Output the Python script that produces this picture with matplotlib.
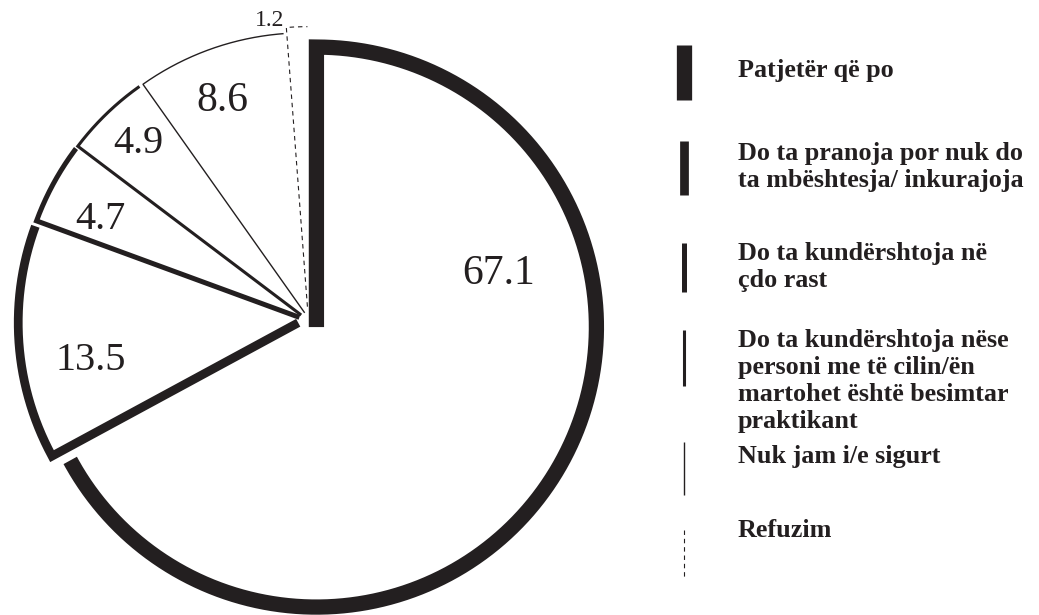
import numpy as np
import matplotlib
matplotlib.use("Agg")
import matplotlib.pyplot as plt

# data
categories = [
    "Patjetër që po",
    "Do ta pranoja por nuk do\nta mbështesja/ inkurajoja",
    "Do ta kundërshtoja në\nçdo rast",
    "Do ta kundërshtoja nëse\npersoni me të cilin/ën\nmartohet është besimtar\npraktikant",
    "Nuk jam i/e sigurt",
    "Refuzim",
]
values = [67.1, 13.5, 4.7, 4.9, 8.6, 1.2]
value_labels = ["67.1", "13.5", "4.7", "4.9", "8.6", "1.2"]

# styles
ink = "#231f20"
widths = [11.0, 6.3, 3.6, 2.2, 1.0, 0.8]
styles = ["solid", "solid", "solid", "solid", "solid", (0, (4, 3.5))]
explode = [0.035, 0.035, 0.035, 0.035, 0.035, 0.055]
# label positions in pie units (radius = 1)
label_xy = [(0.682, 0.171), (-0.775, -0.136), (-0.743, 0.368), (-0.607, 0.636),
            (-0.307, 0.789), (-0.136, 1.077)]
label_size = [30, 29, 29, 29, 30, 17]

W, H = 1039, 615
fig = plt.figure(figsize=(W / 100, H / 100), dpi=100)
fig.patch.set_facecolor("white")

# pie centre at (308, 322) px, radius 280 px
ax = fig.add_axes([0, 0, 616 / W, 1])
wedges, _ = ax.pie(values, startangle=90, counterclock=False, explode=explode,
                   radius=1, wedgeprops=dict(facecolor="white", linewidth=0))

# each slice is outlined by its leading radius and its arc only
for w, lw, ls in zip(wedges, widths, styles):
    cx, cy = w.center
    th = np.radians(np.linspace(w.theta2, w.theta1, 300))
    xs = np.concatenate([[cx], cx + w.r * np.cos(th)])
    ys = np.concatenate([[cy], cy + w.r * np.sin(th)])
    ax.plot(xs, ys, color=ink, lw=lw, linestyle=ls, solid_joinstyle="miter",
            solid_capstyle="butt", dash_capstyle="butt", clip_on=False, zorder=2)

ax.set_xlim(-1.1, 1.1)
ax.set_ylim(-1.046, 1.15)
ax.set_aspect("equal")
ax.axis("off")

for lab, (x, y), fs in zip(value_labels, label_xy, label_size):
    ax.text(x, y, lab, ha="center", va="center", fontsize=fs,
            family="Liberation Serif", color=ink, zorder=5)

# legend
bar_x = 684
bar_spans = [(45, 100), (141, 195), (243, 292), (330, 386), (442, 495), (530, 578)]
text_tops = [59, 142, 242, 329, 445, 519]
for (y0, y1), lw, ls, lab, ty in zip(bar_spans, widths, styles, categories, text_tops):
    fig.add_artist(plt.Line2D([bar_x / W, bar_x / W], [1 - y0 / H, 1 - y1 / H],
                              color=ink, lw=lw, linestyle=ls, solid_capstyle="butt"))
    fig.text(738 / W, 1 - ty / H, lab, ha="left", va="top", fontsize=18.8,
             family="Liberation Serif", fontweight="bold", color=ink,
             linespacing=1.22)

fig.savefig("out.png", dpi=100, facecolor="white")
